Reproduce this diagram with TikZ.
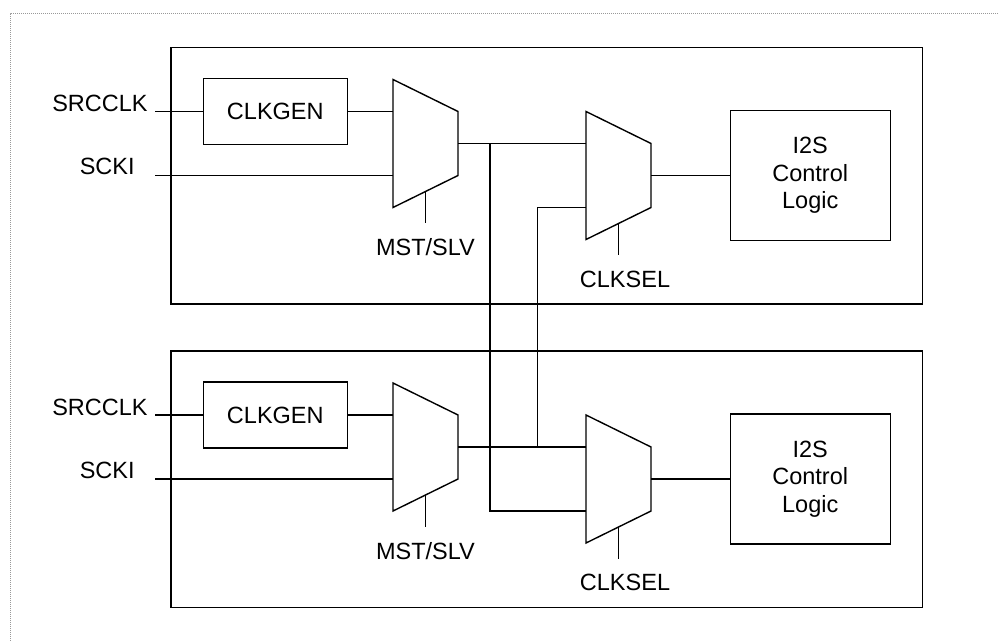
\documentclass[tikz,border=0pt]{standalone}
\usepackage{fontspec}
\setmainfont{Liberation Sans}
\usetikzlibrary{positioning}
\newcommand{\lblfont}{\fontsize{11.75}{13.75}\selectfont}
\tikzset{
  wire/.style={line width=0.65pt},
  blk/.style={draw, line width=0.7pt, inner sep=0pt, align=center, font=\lblfont},
  lbl/.style={inner sep=0pt, font=\lblfont},
  mux/.pic={
    \draw[line width=0.7pt] (0,0) -- (65,32) -- (65,96) -- (0,128) -- cycle;
    \coordinate (-a) at (0,32);
    \coordinate (-b) at (0,96);
    \coordinate (-o) at (65,64);
    \coordinate (-s) at (32.5,112);
    \coordinate (-e) at (32.5,144);
  }
}

\begin{document}
\begin{tikzpicture}[x=0.5pt,y=-0.5pt]
  \useasboundingbox (0,0) rectangle (999,641);
  % page frame
  \draw[black!40, line width=0.5pt, dash pattern=on 0.5pt off 0.5pt] (10,641) -- (10,14) -- (999,14);
  % two identical I2S modules
  \foreach \m/\dy in {1/0,2/303.5}{
    \draw[line width=0.7pt] (171,47.3+\dy) rectangle (922.3,304+\dy);
    \node[blk, minimum width=72pt, minimum height=33pt] (gen\m) at (275.3,111.5+\dy) {CLKGEN};
    \node[blk, minimum width=80pt, minimum height=65pt] (i2s\m) at (810.2,175.5+\dy) {I2S\\Control\\Logic};
    \pic (ms\m) at (393,79.5+\dy) {mux};
    \pic (cs\m) at (586,111.5+\dy) {mux};
    \node[lbl, anchor=base east] (src\m) at (148,111.5+\dy) {SRCCLK};
    \node[lbl, anchor=base east] (scki\m) at (135,174.5+\dy) {SCKI};
    \node[lbl, anchor=base] (mst\m) at (425.5,256+\dy) {MST/SLV};
    \node[lbl, anchor=base] (sel\m) at (625,287+\dy) {CLKSEL};
    \coordinate (sin\m) at (155,111.5+\dy);
    \coordinate (kin\m) at (155,175.5+\dy);
    \draw[wire] (sin\m) -- (gen\m);
    \draw[wire] (gen\m) -- (ms\m-a);
    \draw[wire] (kin\m) -- (ms\m-b);
    \draw[wire] (ms\m-o) -- (cs\m-a);
    \draw[wire] (cs\m-o) -- (i2s\m);
    \draw[wire] (ms\m-s) -- (ms\m-e);
    \draw[wire] (cs\m-s) -- (cs\m-e);
  }
  % clocks crossing between the modules
  \coordinate (j1) at (490,143.5);
  \coordinate (j2) at (537.7,447);
  \draw[wire] (j1) |- (cs2-b);
  \draw[wire] (j2) |- (cs1-b);
\end{tikzpicture}
\end{document}
